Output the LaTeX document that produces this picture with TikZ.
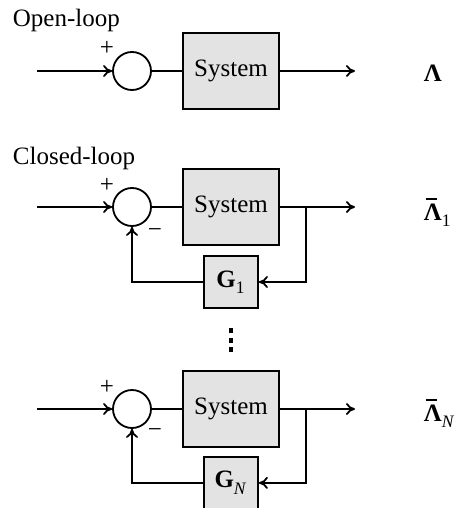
\documentclass[tikz,border=0pt]{standalone}
\usepackage{fontspec}
\setmainfont{Liberation Serif}
\usetikzlibrary{arrows.meta}
% bold Lambda with a short bar above it
\newcommand{\barLambda}{\textbf{\rlap{\hspace{0.1em}\rule[0.8em]{0.42em}{0.065em}}Λ}}
\newcommand{\lowsub}[1]{\textsubscript{\raisebox{-0.35ex}{#1}}}
\begin{document}
\begin{tikzpicture}[x=0.5pt,y=-0.5pt,
  font=\fontsize{12.5}{15}\selectfont,
  line width=0.9pt,
  sumnode/.style={circle,draw,fill=white,minimum size=19pt,inner sep=0pt},
  sysbox/.style={draw,fill=gray!22,minimum width=48pt,minimum height=38pt,inner sep=0pt},
  gainbox/.style={draw,fill=gray!22,minimum width=27pt,minimum height=26pt,inner sep=0pt},
  arr/.style={-{To[length=4.5pt,width=6pt]}},
  sign/.style={inner sep=0pt},
  outlabel/.style={anchor=base west,inner sep=0pt}]
\clip (0,0) rectangle (460,508);
\useasboundingbox (0,0) rectangle (460,508);

% ---- open loop ----
\node[anchor=base west,inner sep=0pt] (title0) at (12,27) {Open-loop};
\coordinate (in0) at (37,71);
\node[sumnode] (s0) at (132,71) {};
\node[sign] (p0) at (107,48) {+};
\node[sysbox] (sys0) at (231,71) {System};
\coordinate (out0) at (355,71);
\node[outlabel] (lab0) at (423,82) {\textbf{Λ}};
\draw[arr] (in0) -- (s0);
\draw (s0) -- (sys0);
\draw[arr] (sys0) -- (out0);

% ---- closed loop, first gain ----
\node[anchor=base west,inner sep=0pt] (title1) at (12,164) {Closed-loop};
\coordinate (in1) at (37,207);
\node[sumnode] (s1) at (132,207) {};
\node[sign] (p1) at (107,185) {+};
\node[sign] (m1) at (155,233) {−};
\node[sysbox] (sys1) at (231,207) {System};
\coordinate (out1) at (355,207);
\coordinate (b1) at (306,207);
\node[gainbox] (g1) at (231,282) {\textbf{G}\lowsub{1}};
\node[outlabel] (lab1) at (423,220) {\barLambda\lowsub{1}};
\draw[arr] (in1) -- (s1);
\draw (s1) -- (sys1);
\draw[arr] (sys1) -- (out1);
\draw[arr] (b1) |- (g1.east);
\draw[arr] (g1.west) -| (s1.south);

% ---- ellipsis ----
\foreach \yy in {330.5,340.5,349.5}
  \fill (228.8,\yy-2.2) rectangle ++(4.4,4.4);

% ---- closed loop, N-th gain ----
\coordinate (in2) at (37,409);
\node[sumnode] (s2) at (132,409) {};
\node[sign] (p2) at (107,387) {+};
\node[sign] (m2) at (155,433) {−};
\node[sysbox] (sys2) at (231,409) {System};
\coordinate (out2) at (355,409);
\coordinate (b2) at (306,409);
\node[gainbox,anchor=north] (g2) at (231,456) {\textbf{G}\lowsub{\textit{N}}};
\node[outlabel] (lab2) at (423,421) {\barLambda\lowsub{\textit{N}}};
\draw[arr] (in2) -- (s2);
\draw (s2) -- (sys2);
\draw[arr] (sys2) -- (out2);
\draw[arr] (b2) |- (g2.east);
\draw[arr] (g2.west) -| (s2.south);
\end{tikzpicture}
\end{document}
